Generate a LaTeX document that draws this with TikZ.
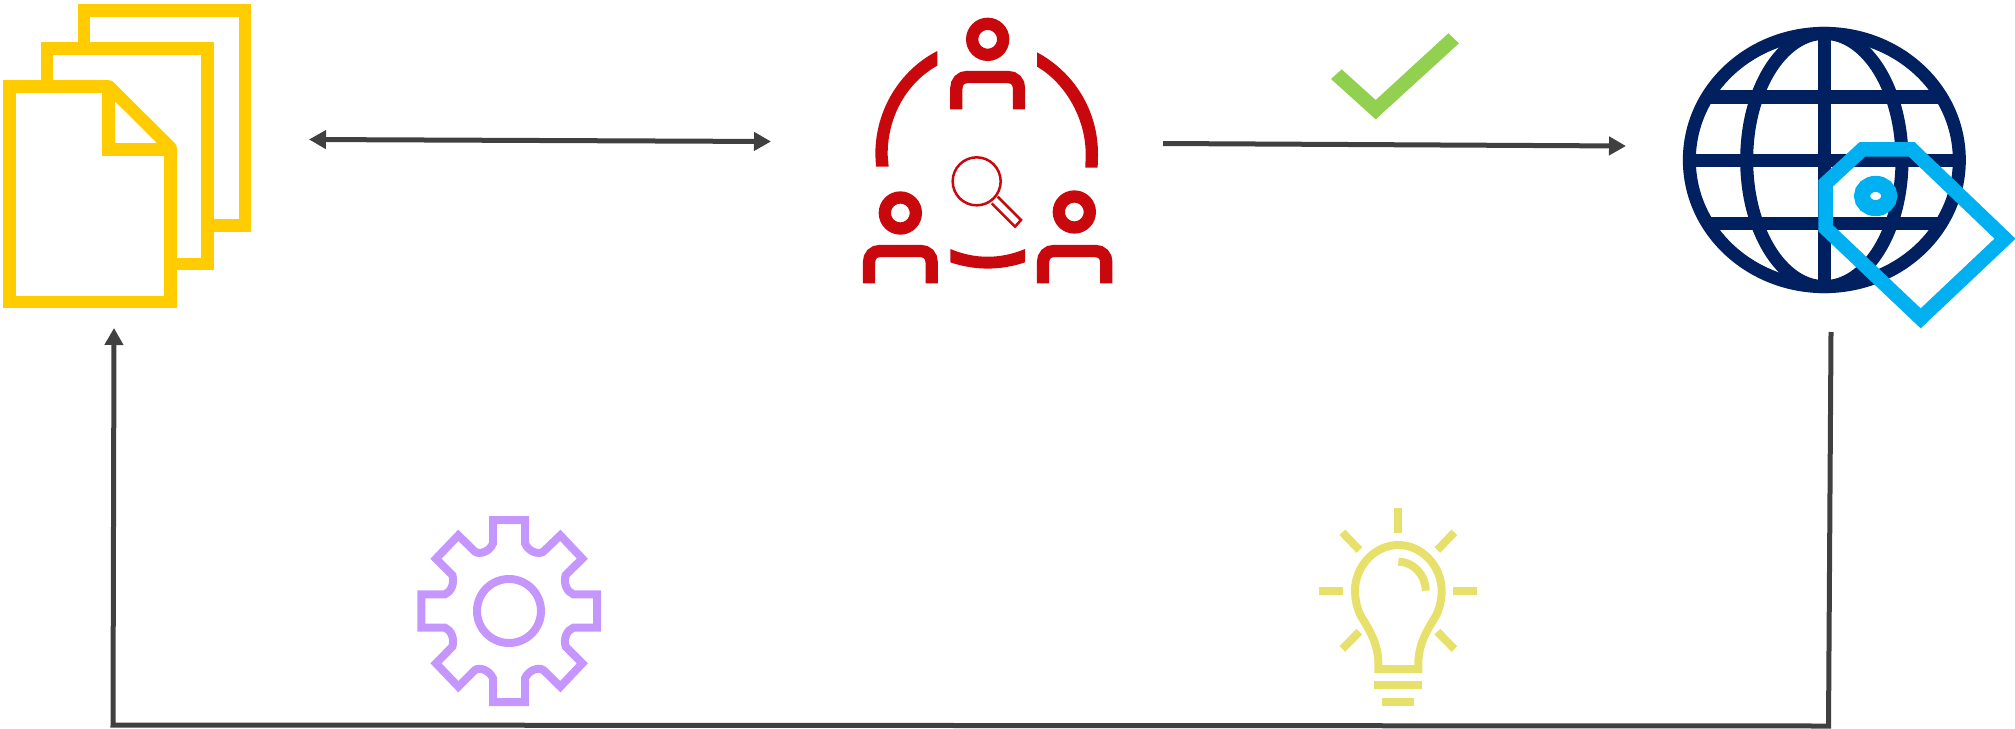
\documentclass[tikz,border=0pt]{standalone}
\usetikzlibrary{arrows.meta}
\definecolor{docY}{HTML}{FFCC00}
\definecolor{teamR}{HTML}{C8080C}
\definecolor{navy}{HTML}{002060}
\definecolor{tagB}{HTML}{00B0F0}
\definecolor{gearP}{HTML}{C696FF}
\definecolor{bulbY}{HTML}{E7E06B}
\definecolor{checkG}{HTML}{92D050}
\definecolor{linkG}{HTML}{404040}
\tikzset{
  link/.style={draw=linkG,line width=5pt,>={Triangle[length=17pt,width=18pt]}},
  icon/.style={x=0.33333pt,y=-0.33333pt},
  doc/.style={draw=docY,line width=12.5pt,miter limit=10},
  team/.style={draw=teamR,line width=12.3pt},
  globe/.style={draw=navy,line width=13pt},
  tagl/.style={draw=tagB,line width=14.5pt,miter limit=10},
  gear/.style={draw=gearP,line width=8pt},
  bulb/.style={draw=bulbY,line width=8pt}
}
\begin{document}
\begin{tikzpicture}[x=1pt,y=-1pt]
\useasboundingbox (0,0) rectangle (2015,728);
% documents
\draw[doc] (84,48.5) -- (84,10.5) -- (245,10.5) -- (245,225.5) -- (207.5,225.5);
\draw[doc] (47,86.5) -- (47,48.5) -- (207.5,48.5) -- (207.5,264) -- (170.5,264);
\draw[doc] (109,86.5) -- (9.5,86.5) -- (9.5,302) -- (170.5,302) -- (170.5,148);
\draw[doc,line join=round] (105,86.5) -- (109,86.5) -- (170.5,147.7) -- (170.5,155);
\draw[doc] (108.5,86.5) -- (108.5,149.5) -- (170.5,149.5);
% connectors
\coordinate (a1) at (309,139.5);
\coordinate (a2) at (771,141.5);
\coordinate (b1) at (1163,143.5);
\coordinate (b2) at (1626,146);
\coordinate (c1) at (1831,332);
\coordinate (c2) at (1828.5,726);
\coordinate (c3) at (113,725);
\coordinate (c4) at (114,328);
\draw[link,<->] (a1) -- (a2);
\draw[link,->] (b1) -- (b2);
\draw[link,->] (c1) -- (c2) -- (c3) -- (c4);
% team
\begin{scope}[shift={(850,0)},icon]
\draw[team] (413,118) circle[radius=46.5];
\draw[team] (319,328) -- (319,265) .. controls (319,245) and (332,231) .. (352,231) -- (474,231) .. controls (494,231) and (507,245) .. (507,265) -- (507,328);
\draw[team] (151,639) circle[radius=46.5];
\draw[team] (57,850) -- (57,787) .. controls (57,767) and (70,753) .. (90,753) -- (212,753) .. controls (232,753) and (245,767) .. (245,787) -- (245,850);
\draw[team] (673,636) circle[radius=46.5];
\draw[team] (579,850) -- (579,787) .. controls (579,767) and (592,753) .. (612,753) -- (736,753) .. controls (756,753) and (769,767) .. (769,787) -- (769,850);
\fill[teamR] (262,153) .. controls (150,210) and (75,330) .. (76,465) -- (78,500) -- (116,500) -- (113,465) .. controls (112,345) and (175,245) .. (262,197) -- cycle;
\fill[teamR] (561,157) .. controls (670,215) and (745,330) .. (744,465) -- (743,503) -- (706,503) -- (707,465) .. controls (708,350) and (640,245) .. (561,200) -- cycle;
\fill[teamR] (301,747) .. controls (375,778) and (451,778) .. (525,747) -- (525,787) .. controls (451,812) and (375,812) .. (301,787) -- cycle;
\draw[teamR,line width=2.5pt] (380,544) circle[radius=72];
\draw[teamR,line width=2.5pt] (443,590) -- (513,660) -- (495,680) -- (425,610);
\end{scope}
% check
\begin{scope}[shift={(1310,20)},icon]
\fill[checkG] (63,177) -- (95,148) -- (197,240) -- (415,40) -- (447,70) -- (197,298) -- cycle;
\end{scope}
% globe and tag
\begin{scope}[shift={(1670,10)},icon]
\draw[globe] (463,450) ellipse[x radius=405,y radius=380];
\draw[globe] (463,450) ellipse[x radius=233,y radius=380];
\draw[globe] (463,70) -- (463,830);
\begin{scope}
\clip (463,450) ellipse[x radius=405,y radius=380];
\draw[globe] (58,261) -- (868,261);
\draw[globe] (58,451) -- (868,451);
\draw[globe] (58,641) -- (868,641);
\end{scope}
\draw[tagl] (467,520) -- (577,418) -- (725,418) -- (1005,686) -- (752,925) -- (467,655) -- cycle;
\draw[draw=tagB,line width=16pt] (617,558) ellipse[x radius=41,y radius=36.5];
\end{scope}
% gear
\begin{scope}[shift={(400,500)},icon]
\draw[gear] (279,130) -- (279,60) -- (375,60) -- (375,130)
 .. controls (385,155) and (415,165) .. (430,155) -- (481,106) -- (547,176) -- (497,225)
 .. controls (490,250) and (500,275) .. (520,283) -- (591,283) -- (591,383) -- (520,383)
 .. controls (500,391) and (490,416) .. (497,440) -- (547,490) -- (481,560) -- (430,510)
 .. controls (415,500) and (385,511) .. (375,535) -- (375,606) -- (279,606) -- (279,535)
 .. controls (269,511) and (239,500) .. (225,510) -- (175,560) -- (108,490) -- (157,440)
 .. controls (164,416) and (154,391) .. (135,383) -- (64,383) -- (64,283) -- (135,283)
 .. controls (154,275) and (164,250) .. (157,225) -- (108,176) -- (175,106) -- (225,155)
 .. controls (239,165) and (269,155) .. (279,130) -- cycle;
\draw[gear] (327,333) circle[radius=96];
\end{scope}
% bulb
\begin{scope}[shift={(1300,500)},icon]
\draw[bulb] (235,507) -- (235,490) .. controls (235,430) and (205,385) .. (185,352) .. controls (172,330) and (165,300) .. (165,272) .. controls (165,200) and (223,135) .. (295,135) .. controls (367,135) and (425,200) .. (425,272) .. controls (425,300) and (418,330) .. (405,352) .. controls (385,385) and (355,430) .. (355,490) -- (355,507) -- cycle;
\draw[bulb] (295,185) .. controls (340,185) and (377,225) .. (377,272);
\draw[bulb] (295,24) -- (295,98);
\draw[bulb] (460,272) -- (532,272);
\draw[bulb] (57,272) -- (129,272);
\draw[bulb] (463,97) -- (412,150);
\draw[bulb] (127,97) -- (178,150);
\draw[bulb] (127,447) -- (178,395);
\draw[bulb] (463,447) -- (412,395);
\draw[bulb] (223,555) -- (366,555);
\draw[bulb] (246,605) -- (342,605);
\end{scope}
\end{tikzpicture}
\end{document}
